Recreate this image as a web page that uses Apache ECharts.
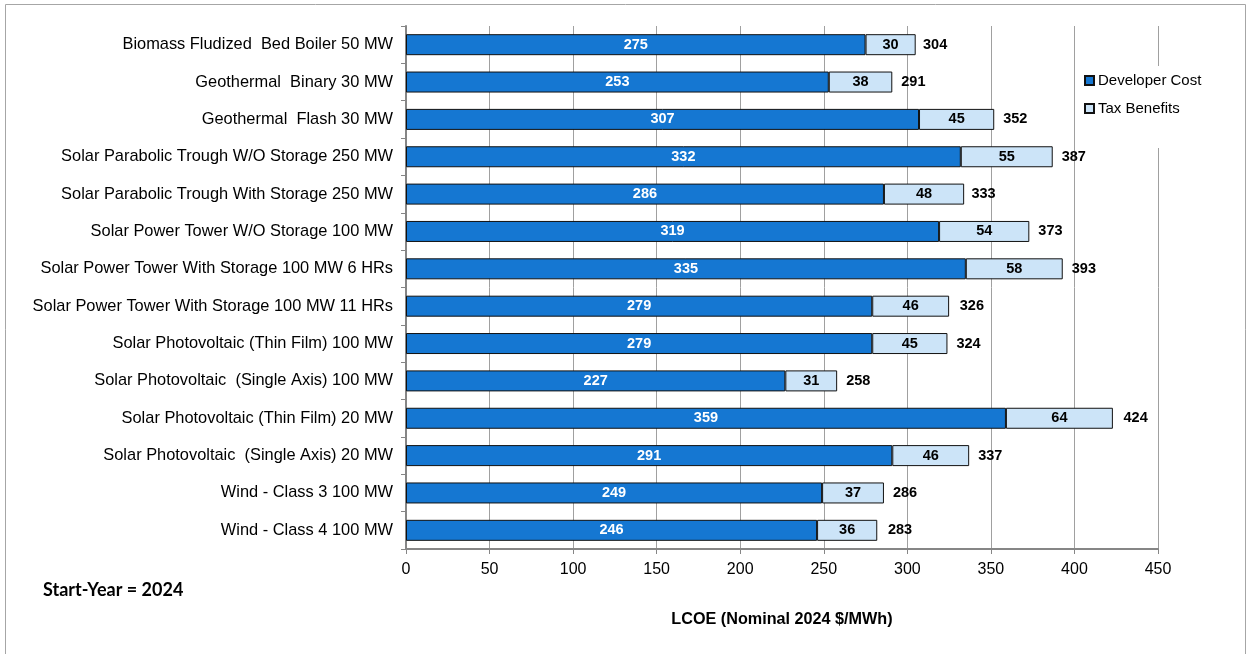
<!DOCTYPE html>
<html>
<head>
<meta charset="utf-8">
<script src="https://cdn.jsdelivr.net/npm/echarts@6/dist/echarts.min.js"></script>
<style>
  html, body { margin: 0; padding: 0; background: #fff; }
  #chart { width: 1248px; height: 654px; }
</style>
</head>
<body>
<div id="chart"></div>
<script>
// Technology categories, top to bottom
const categories = [
  'Biomass Fludized  Bed Boiler 50 MW',
  'Geothermal  Binary 30 MW',
  'Geothermal  Flash 30 MW',
  'Solar Parabolic Trough W/O Storage 250 MW',
  'Solar Parabolic Trough With Storage 250 MW',
  'Solar Power Tower W/O Storage 100 MW',
  'Solar Power Tower With Storage 100 MW 6 HRs',
  'Solar Power Tower With Storage 100 MW 11 HRs',
  'Solar Photovoltaic (Thin Film) 100 MW',
  'Solar Photovoltaic  (Single Axis) 100 MW',
  'Solar Photovoltaic (Thin Film) 20 MW',
  'Solar Photovoltaic  (Single Axis) 20 MW',
  'Wind - Class 3 100 MW',
  'Wind - Class 4 100 MW'
];
// LCOE components, nominal 2024 $/MWh
const developerCost = [275, 253, 307, 332, 286, 319, 335, 279, 279, 227, 359, 291, 249, 246];
const taxBenefits   = [30, 38, 45, 55, 48, 54, 58, 46, 45, 31, 64, 46, 37, 36];
const totals        = [304, 291, 352, 387, 333, 373, 393, 326, 324, 258, 424, 337, 286, 283];
const xTicks = [0, 50, 100, 150, 200, 250, 300, 350, 400, 450];

const FONT = '"Liberation Sans", Arial, sans-serif';
const chart = echarts.init(document.getElementById('chart'), null, { renderer: 'canvas' });

chart.setOption({
  animation: false,
  backgroundColor: '#ffffff',
  textStyle: { fontFamily: FONT },
  graphic: [
    {
      type: 'rect', z: -10,
      shape: { x: 5.5, y: 4.5, width: 1240, height: 660 },
      style: { fill: '#ffffff', stroke: '#a6a6a6', lineWidth: 1 }
    },
    {
      type: 'rect', z: 5,
      shape: { x: 1077, y: 66, width: 166, height: 82 },
      style: { fill: '#ffffff' }
    },
    {
      type: 'text', left: 43, top: 581, z: 10,
      style: { text: 'Start-Year = 2024', font: 'bold 18px Lato, "Liberation Sans", sans-serif', fill: '#000' }
    }
  ],
  grid: { left: 406, right: 90, top: 26, bottom: 105, containLabel: false },
  legend: {
    orient: 'vertical',
    left: 1079, top: 68,
    itemWidth: 9, itemHeight: 9, itemGap: 13,
    icon: 'rect',
    z: 10,
    textStyle: { fontFamily: FONT, fontSize: 15, color: '#000', padding: [0, 0, 0, -1] },
    data: ['Developer Cost', 'Tax Benefits']
  },
  xAxis: {
    type: 'value',
    min: xTicks[0], max: xTicks[xTicks.length - 1], interval: 50,
    name: 'LCOE (Nominal 2024 $/MWh)',
    nameLocation: 'middle', nameGap: 63,
    nameTextStyle: { fontFamily: FONT, fontSize: 16.2, fontWeight: 'bold', color: '#000' },
    axisLine: { show: true, lineStyle: { color: '#868686', width: 2 } },
    axisTick: { show: true, length: 5, lineStyle: { color: '#868686', width: 1 } },
    axisLabel: { fontFamily: FONT, fontSize: 16, color: '#000', margin: 13 },
    splitLine: { show: true, lineStyle: { color: '#a0a0a0', width: 1 } }
  },
  yAxis: {
    type: 'category',
    data: categories,
    inverse: true,
    axisLine: { show: true, lineStyle: { color: '#868686', width: 2 } },
    axisTick: { show: true, length: 5, lineStyle: { color: '#868686', width: 1 } },
    axisLabel: { fontFamily: FONT, fontSize: 16.4, color: '#000', margin: 13 },
    splitLine: { show: false }
  },
  series: [
    {
      name: 'Developer Cost',
      type: 'bar', stack: 'lcoe', barWidth: 21,
      data: developerCost,
      itemStyle: { color: '#1577d2', borderColor: '#111', borderWidth: 1 },
      label: {
        show: true, position: 'inside', color: '#fff',
        fontFamily: FONT, fontSize: 14.5, fontWeight: 'bold'
      }
    },
    {
      name: 'Tax Benefits',
      type: 'bar', stack: 'lcoe', barWidth: 21,
      data: taxBenefits,
      itemStyle: { color: '#cce4f8', borderColor: '#111', borderWidth: 1 },
      label: {
        show: true, position: 'inside', color: '#000',
        fontFamily: FONT, fontSize: 14.5, fontWeight: 'bold'
      }
    },
    {
      name: 'Total',
      type: 'scatter',
      symbolSize: 0,
      silent: true,
      data: totals.map((t, i) => [t, i]),
      itemStyle: { opacity: 1 },
      label: {
        show: true, position: 'right', distance: 9, color: '#000', opacity: 1,
        fontFamily: FONT, fontSize: 14.5, fontWeight: 'bold',
        formatter: p => String(p.value[0])
      }
    }
  ]
});
</script>
</body>
</html>
